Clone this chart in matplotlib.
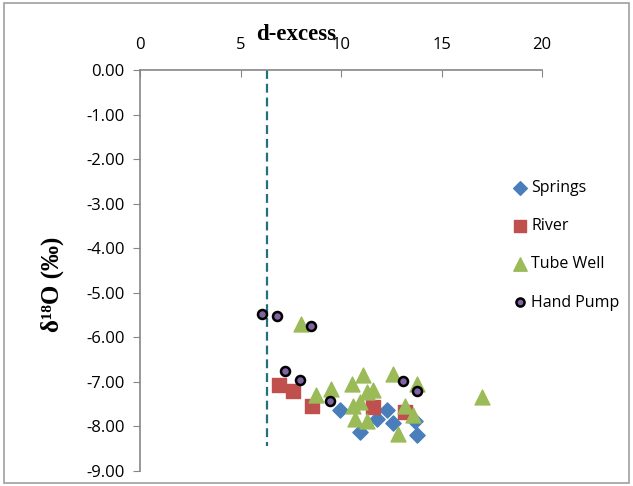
import matplotlib
matplotlib.use("Agg")
import matplotlib.pyplot as plt
from matplotlib.patches import Rectangle

# data (d-excess vs d18O)
springs_x = [9.95, 10.95, 11.78, 12.27, 12.6, 13.77, 13.68]
springs_y = [-7.64, -8.13, -7.83, -7.64, -7.93, -8.2, -7.87]

river_x = [6.93, 7.63, 8.56, 11.6, 13.18]
river_y = [-7.08, -7.2, -7.55, -7.56, -7.68]

tube_x = [8.0, 8.76, 9.5, 10.53, 11.11, 11.28, 11.6, 10.61, 10.95, 10.7, 11.28,
          12.6, 13.77, 13.18, 13.6, 12.85, 17.0]
tube_y = [-5.69, -7.3, -7.15, -7.04, -6.85, -7.23, -7.19, -7.53, -7.45, -7.83, -7.87,
          -6.82, -7.04, -7.54, -7.75, -8.16, -7.34]

pump_x = [6.08, 6.83, 8.49, 7.21, 7.96, 9.45, 13.1, 13.77]
pump_y = [-5.48, -5.51, -5.75, -6.75, -6.95, -7.44, -6.98, -7.2]

gmwl_dx = 6.3       # dashed reference line
gmwl_bottom = -8.45

xticks = [0, 5, 10, 15, 20]
yticks = [0, -1, -2, -3, -4, -5, -6, -7, -8, -9]

plt.rcParams['font.family'] = ['Open Sans', 'DejaVu Sans']
serif = ["Liberation Serif", "DejaVu Serif"]

fig = plt.figure(figsize=(6.33, 4.86), dpi=100)
ax = fig.add_axes([140 / 633, 1 - 471 / 486, 402 / 633, 401 / 486])

ax.plot([gmwl_dx, gmwl_dx], [0, gmwl_bottom], ls=(0, (4, 2.2)), color="#23707e", lw=1.6, zorder=1)

ax.scatter(springs_x, springs_y, marker="D", s=60, color="#4a7ebb", label="Springs", zorder=2)
ax.scatter(river_x, river_y, marker="s", s=105, color="#c0504d", label="River", zorder=3)
ax.scatter(tube_x, tube_y, marker="^", s=115, color="#9bbb59", label="Tube Well", zorder=4)
ax.scatter(pump_x, pump_y, marker="o", s=42, color="#8064a2", edgecolor="black",
           linewidth=1.8, label="Hand Pump", zorder=5)

ax.set_xlim(0, 20)
ax.set_ylim(-9, 0)
ax.set_xticks(xticks)
ax.set_yticks(yticks)
ax.set_yticklabels(["%.2f" % v for v in yticks])
ax.xaxis.tick_top()
ax.tick_params(axis="x", direction="in", length=5, color="#868686", labelsize=12, pad=12)
ax.tick_params(axis="y", direction="out", length=5, color="#868686", labelsize=12, pad=6)
ax.spines["right"].set_visible(False)
ax.spines["bottom"].set_visible(False)
for s in ["top", "left"]:
    ax.spines[s].set_color("#868686")
    ax.spines[s].set_linewidth(1.2)

fig.text(296 / 633, 1 - 34 / 486, "d-excess", family=serif, fontweight="bold",
         fontsize=16.5, ha="center", va="center")
fig.text(52 / 633, 1 - 284 / 486, "δ¹⁸O (‰)", family=serif,
         fontweight="bold", fontsize=18, rotation=90, ha="center", va="center")

ax.legend(loc="upper left", bbox_to_anchor=(512 / 633, 1 - 180 / 486),
          bbox_transform=fig.transFigure, frameon=False, fontsize=11.5,
          labelspacing=1.39, handlelength=1.0, handletextpad=0.2,
          borderpad=0, borderaxespad=0, markerscale=0.9)

fig.patches.append(Rectangle((0.006, 0.006), 0.988, 0.988, transform=fig.transFigure,
                             fill=False, edgecolor="#a0a0a0", lw=1.2))

fig.savefig("out.png", dpi=100)
